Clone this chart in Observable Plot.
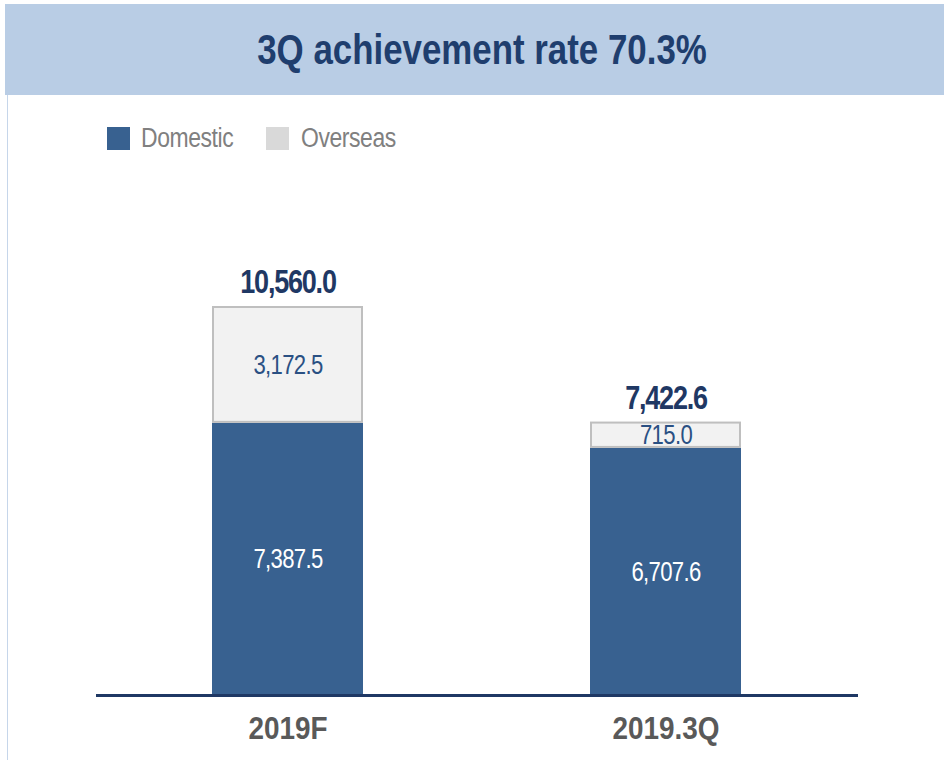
<!DOCTYPE html>
<html><head><meta charset="utf-8">
<script src="https://cdn.jsdelivr.net/npm/d3@7"></script>
<script src="https://cdn.jsdelivr.net/npm/@observablehq/plot@0.6"></script>
<style>
body{margin:0;background:#fff;}
#wrap{position:relative;width:944px;height:760px;overflow:hidden;font-family:"Liberation Sans",Arial,sans-serif;}
#band{position:absolute;left:5px;top:4px;width:939px;height:91px;background:#b9cde5;}
#title{position:absolute;left:482px;top:50px;white-space:nowrap;color:#1f3e6e;font-weight:bold;font-size:42px;line-height:42px;transform:translate(-50%,-50%) scaleX(0.83);}
#vline{position:absolute;left:7px;top:95px;width:1px;height:665px;background:#c6d6ea;}
.sw{position:absolute;top:127px;width:23px;height:23px;}
.lt{position:absolute;top:124px;font-size:27px;line-height:28px;color:#808080;white-space:nowrap;transform:scaleX(0.85);transform-origin:0 50%;letter-spacing:-0.5px;}
#chart{position:absolute;left:0;top:160px;}
</style>
</head><body>
<div id="wrap">
  <div id="band"></div>
  <div id="title"></div>
  <div id="vline"></div>
  <div id="legend"></div>
  <div id="chart"></div>
</div>
<script>
const title = "3Q achievement rate 70.3%";
const categories = ["2019F", "2019.3Q"];
const series = ["Domestic", "Overseas"];
const domestic = [7387.5, 6707.6];
const overseas = [3172.5, 715.0];
const totals = [10560.0, 7422.6];
const colors = {Domestic: "#386190", Overseas: "#f2f2f2"};
const legendSwatch = {Domestic: "#386190", Overseas: "#d9d9d9"};

document.getElementById("title").textContent = title;
const leg = document.getElementById("legend");
const legX = [[107, 141], [266, 301]];
series.forEach((s, i) => {
  const sw = document.createElement("div"); sw.className = "sw";
  sw.style.left = legX[i][0] + "px"; sw.style.background = legendSwatch[s];
  const tx = document.createElement("div"); tx.className = "lt";
  tx.style.left = legX[i][1] + "px"; tx.textContent = s;
  leg.appendChild(sw); leg.appendChild(tx);
});

const rows = [];
categories.forEach((c, i) => {
  rows.push({cat: c, series: "Domestic", value: domestic[i], lo: 0, hi: domestic[i]});
  rows.push({cat: c, series: "Overseas", value: overseas[i], lo: domestic[i], hi: domestic[i] + overseas[i]});
});
const dom = rows.filter(d => d.series === "Domestic");
const ovs = rows.filter(d => d.series === "Overseas");
const totRows = categories.map((c, i) => ({cat: c, total: totals[i]}));
const fmt = d3.format(",.1f");
const font = '"Liberation Sans",Arial,sans-serif';

const chart = Plot.plot({
  width: 944,
  height: 600,
  marginLeft: 96,
  marginRight: 86,
  marginTop: 146,
  marginBottom: 65,
  style: {fontFamily: font, background: "transparent", overflow: "visible"},
  x: {domain: categories, paddingInner: 0.6, paddingOuter: 0.306, axis: null},
  y: {domain: [0, 10560], axis: null},
  marks: [
    Plot.barY(dom, {x: "cat", y1: "lo", y2: "hi", fill: colors.Domestic}),
    Plot.barY(ovs, {x: "cat", y1: "lo", y2: "hi", fill: colors.Overseas, stroke: "#bfbfbf", strokeWidth: 2, inset: 1}),
    Plot.text(dom, {x: "cat", y: d => (d.lo + d.hi) / 2, text: d => fmt(d.value), fill: "#ffffff", fontSize: 27}),
    Plot.text(ovs, {x: "cat", y: d => (d.lo + d.hi) / 2, text: d => fmt(d.value), fill: "#2a5083", fontSize: 27}),
    Plot.text(totRows, {x: "cat", y: "total", text: d => fmt(d.total), fill: "#1f3864", fontSize: 33, fontWeight: "bold", dy: -24}),
    Plot.ruleY([0], {stroke: "#1f3864", strokeWidth: 3}),
    Plot.axisX({tickSize: 0, tickPadding: 21, fontSize: 31, fontWeight: "bold", fill: "#595959", label: null})
  ]
});
document.getElementById("chart").appendChild(chart);

// narrow the lettering (the reference uses a condensed face)
const textGroups = chart.querySelectorAll('g[aria-label="text"]');
const styleFor = [
  {sx: 0.82, ls: -0.8},
  {sx: 0.82, ls: -0.8},
  {sx: 0.82, ls: -1.5}
];
textGroups.forEach((g, i) => {
  const st = styleFor[i] || styleFor[0];
  g.setAttribute("letter-spacing", st.ls);
  g.querySelectorAll("text").forEach(t => {
    const tr = t.getAttribute("transform") || "";
    t.setAttribute("transform", tr + ` scale(${st.sx},1)`);
  });
});
chart.querySelectorAll('g[aria-label="x-axis tick label"] text').forEach(t => {
  const tr = t.getAttribute("transform") || "";
  t.setAttribute("transform", tr + " scale(0.9,1)");
});
</script>
</body></html>
